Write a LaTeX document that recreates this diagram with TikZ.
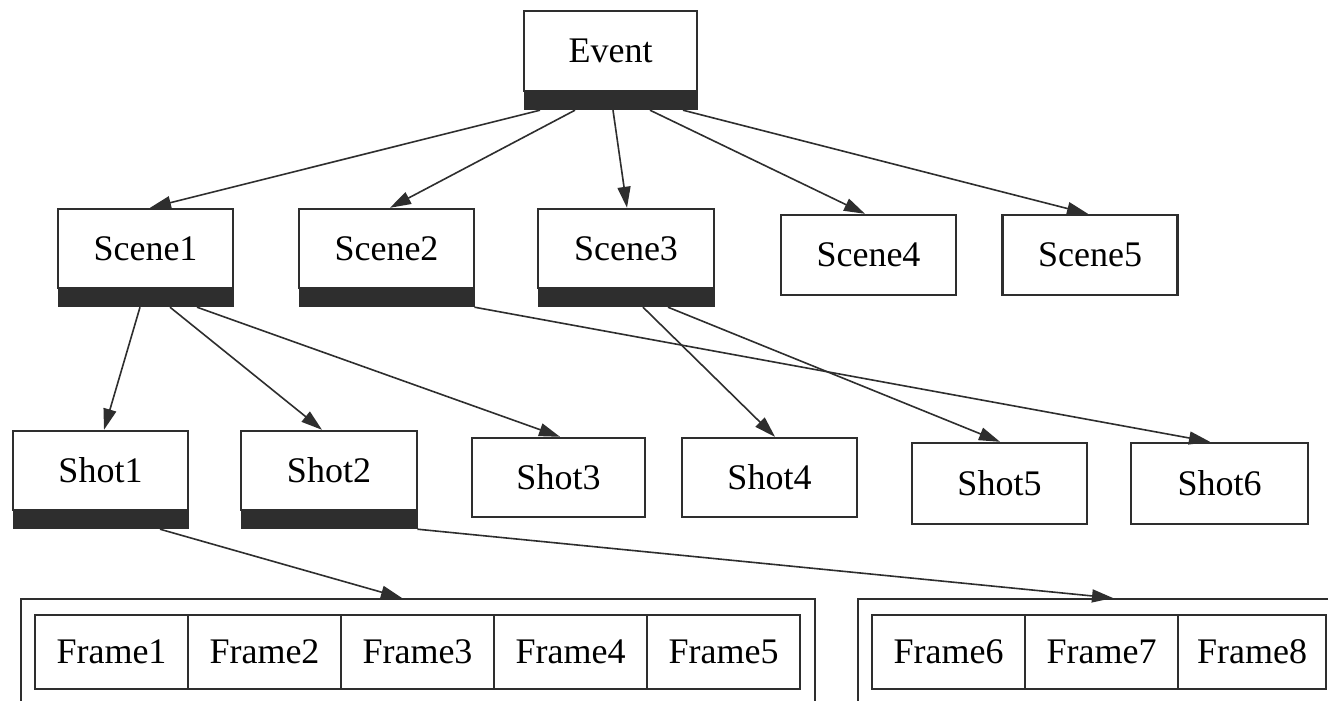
\documentclass[tikz,border=0pt]{standalone}
\usepackage{fontspec}
\setmainfont{Liberation Serif}
\usetikzlibrary{arrows.meta}
\definecolor{ink}{HTML}{2E2E2E}
\tikzset{
  lbl/.style={font=\fontsize{36}{40}\selectfont},
  box/.style={lbl, draw=ink, line width=2.4pt, fill=white, minimum width=175pt, minimum height=80pt, inner sep=0pt},
  bar/.style={draw=ink, line width=1pt, fill=ink, minimum width=175pt, minimum height=17pt, inner sep=0pt, anchor=north},
  cell/.style={lbl, draw=ink, line width=2pt, minimum width=153pt, minimum height=74pt, inner sep=0pt},
  cont/.style={draw=ink, line width=2pt, inner sep=0pt},
  edge/.style={draw=ink, line width=1.6pt, -{Triangle[length=21pt,width=13pt]}},
}
\begin{document}
\begin{tikzpicture}[x=1pt,y=-1pt]
\path[use as bounding box, clip] (0,0) rectangle (1328,701);
\fill[white] (0,0) rectangle (1328,701);
% level 0
\node[box, minimum width=173pt] (ev) at (610.5,51) {Event};
\node[bar, minimum width=173pt] (evb) at (ev.south) {};
% scenes
\node[box, minimum height=79pt] (s1) at (145.5,248.5) {Scene1};
\node[bar] (s1b) at (s1.south) {};
\node[box, minimum height=79pt] (s2) at (386.5,248.5) {Scene2};
\node[bar] (s2b) at (s2.south) {};
\node[box, minimum height=79pt, minimum width=176pt] (s3) at (626,248.5) {Scene3};
\node[bar, minimum width=176pt] (s3b) at (s3.south) {};
\node[box] (s4) at (868.5,255) {Scene4};
\node[box] (s5) at (1090,255) {Scene5};
% shots
\node[box, minimum height=79pt] (h1) at (100.5,470.5) {Shot1};
\node[bar] (h1b) at (h1.south) {};
\node[box, minimum height=79pt, minimum width=176pt] (h2) at (329,470.5) {Shot2};
\node[bar, minimum width=176pt] (h2b) at (h2.south) {};
\node[box, minimum width=173pt, minimum height=79pt] (h3) at (558.5,477.5) {Shot3};
\node[box, minimum height=79pt] (h4) at (769.5,477.5) {Shot4};
\node[box, minimum height=81pt] (h5) at (999.5,483.5) {Shot5};
\node[box, minimum height=81pt, minimum width=177pt] (h6) at (1219.5,483.5) {Shot6};
% frame containers
\node[cont, minimum width=794pt, minimum height=140pt] (c1) at (418,669) {};
\node[cont, minimum width=487pt, minimum height=140pt] (c2) at (1101.5,669) {};
\node[cell] (f1) at (111.5,652) {Frame1};
\node[cell] (f2) at (264.5,652) {Frame2};
\node[cell] (f3) at (417.5,652) {Frame3};
\node[cell] (f4) at (570.5,652) {Frame4};
\node[cell] (f5) at (723.5,652) {Frame5};
\node[cell] (f6) at (948.5,652) {Frame6};
\node[cell] (f7) at (1101.5,652) {Frame7};
\node[cell, minimum width=148pt] (f8) at (1252,652) {Frame8};
% edges
\draw[edge] ([xshift=-70.5pt]evb.south) -- ([xshift=4.5pt]s1.north);
\draw[edge] ([xshift=-35.5pt]evb.south) -- ([xshift=3.5pt]s2.north);
\draw[edge] ([xshift=2.5pt]evb.south) -- ([xshift=1pt]s3.north);
\draw[edge] ([xshift=39.5pt]evb.south) -- ([xshift=-3.5pt]s4.north);
\draw[edge] ([xshift=72.5pt]evb.south) -- ([xshift=-2pt]s5.north);
\draw[edge] ([xshift=-5.5pt]s1b.south) -- ([xshift=3.5pt]h1.north);
\draw[edge] ([xshift=24.5pt]s1b.south) -- ([xshift=-7pt]h2.north);
\draw[edge] ([xshift=51.5pt]s1b.south) -- ([xshift=1.5pt]h3.north);
\draw[edge] (s2b.south east) -- ([xshift=-9.5pt]h6.north);
\draw[edge] ([xshift=17pt]s3b.south) -- ([xshift=5.5pt]h4.north);
\draw[edge] ([xshift=42pt]s3b.south) -- ([xshift=0.5pt]h5.north);
\draw[edge] ([xshift=59.5pt]h1b.south) -- ([xshift=-16pt]c1.north);
\draw[edge] (h2b.south east) -- ([xshift=11.5pt]c2.north);
\end{tikzpicture}
\end{document}
